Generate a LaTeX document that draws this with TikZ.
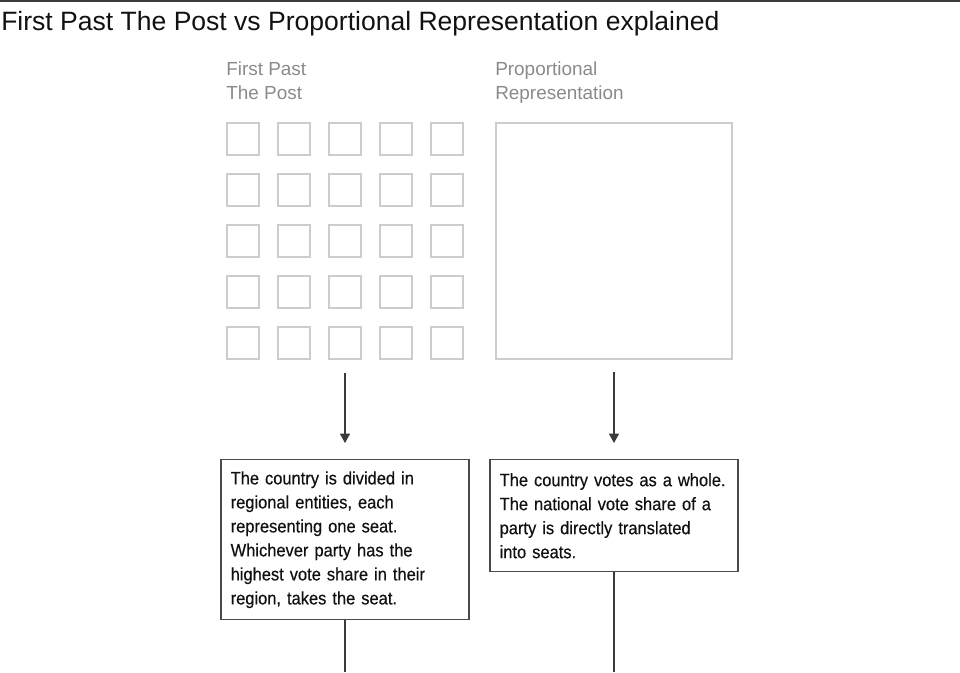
\documentclass[tikz,border=0pt]{standalone}
\usepackage{fontspec}
\setmainfont{Liberation Sans}
\newfontfamily\narrowfont[FakeStretch=0.915, FakeBold=0.4]{Liberation Sans}
\usetikzlibrary{positioning, arrows.meta}
\definecolor{rulegray}{HTML}{3A3A3A}
\definecolor{labelgray}{HTML}{8A8A8A}
\definecolor{seatgray}{HTML}{CCCCCC}
\definecolor{boxgray}{HTML}{4A4A4A}
\definecolor{inktext}{HTML}{111111}
\tikzstyle{seat}=[draw=seatgray, line width=1.5pt, minimum size=24pt, inner sep=0pt]
\tikzstyle{headlabel}=[anchor=north west, inner sep=0pt, align=left, text=labelgray, font=\fontsize{14.2}{18}\selectfont]
\tikzstyle{infobox}=[draw=boxgray, line width=1.1pt, text=inktext, align=left, anchor=north, minimum width=186pt, text width=171.5pt, inner xsep=7.25pt, font=\narrowfont\fontsize{13.5}{18}\selectfont]
\tikzstyle{downarrow}=[-{Triangle[width=7.5pt,length=7pt]}, draw=rulegray, line width=0.9pt]
\tikzstyle{stem}=[draw=rulegray, line width=0.9pt]

\begin{document}
\begin{tikzpicture}[x=0.75pt,y=-0.75pt]
        \useasboundingbox (0,0) rectangle (960,672);
        \draw[rulegray, line width=1.5pt] (0,1) -- (960,1);
        \node[anchor=base west, inner sep=0pt, text=inktext, font=\fontsize{19.9}{24}\selectfont] (title) at (1,30) {First Past The Post vs Proportional Representation explained};

        \node[headlabel] (fptp) at (226,62) {First Past\\The Post};
        \node[headlabel] (pr) at (495,62) {Proportional\\Representation};

        % first past the post: one seat per region
        \node[seat] (1) at (243,139) {};
        \node[seat] (2) at (294,139) {};
        \node[seat] (3) at (345,139) {};
        \node[seat] (4) at (396,139) {};
        \node[seat] (5) at (447,139) {};

        \node[seat] (6) at (243,190) {};
        \node[seat] (7) at (294,190) {};
        \node[seat] (8) at (345,190) {};
        \node[seat] (9) at (396,190) {};
        \node[seat] (10) at (447,190) {};

        \node[seat] (11) at (243,241) {};
        \node[seat] (12) at (294,241) {};
        \node[seat] (13) at (345,241) {};
        \node[seat] (14) at (396,241) {};
        \node[seat] (15) at (447,241) {};

        \node[seat] (16) at (243,292) {};
        \node[seat] (17) at (294,292) {};
        \node[seat] (18) at (345,292) {};
        \node[seat] (19) at (396,292) {};
        \node[seat] (20) at (447,292) {};

        \node[seat] (21) at (243,343) {};
        \node[seat] (22) at (294,343) {};
        \node[seat] (23) at (345,343) {};
        \node[seat] (24) at (396,343) {};
        \node[seat] (25) at (447,343) {};

        % proportional: the whole country
        \node[seat, minimum size=177pt] (whole) at (614,241) {};

        \node[infobox, minimum height=120pt] (fptpbox) at (345,459) {The country is divided in\\regional entities, each\\representing one seat.\\Whichever party has the\\highest vote share in their\\region, takes the seat.};
        \node[infobox, minimum height=84pt] (prbox) at (614,459) {The country votes as a whole.\\The national vote share of a\\party is directly translated\\into seats.};

        \coordinate (fptpend) at (345,672);
        \coordinate (prend) at (614,672);

        \draw[downarrow, shorten <=9.75pt, shorten >=12pt] (23) -- (fptpbox);
        \draw[downarrow, shorten <=9pt, shorten >=12pt] (whole) -- (prbox);
        \draw[stem] (fptpbox) -- (fptpend);
        \draw[stem] (prbox) -- (prend);

\end{tikzpicture}
\end{document}
